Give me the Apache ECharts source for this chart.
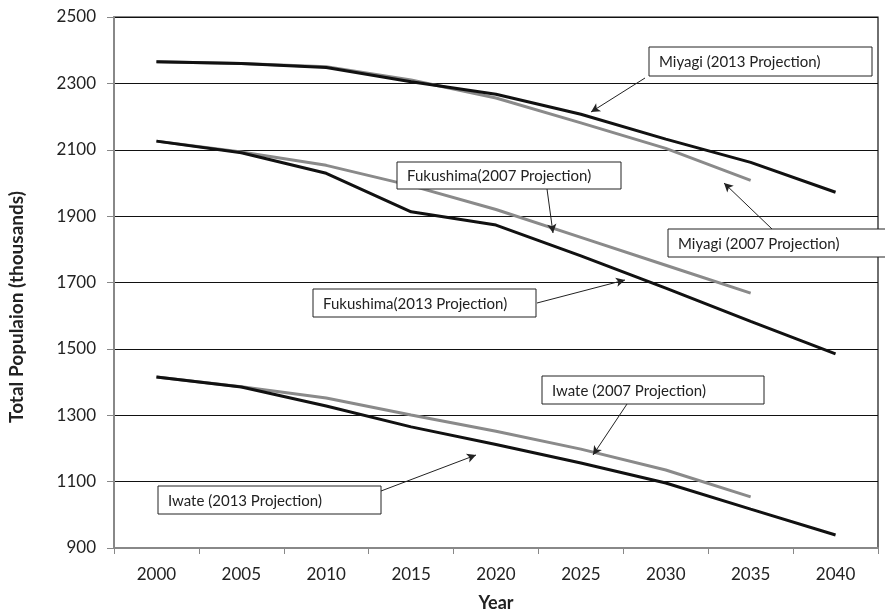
<!DOCTYPE html>
<html>
<head>
<meta charset="utf-8">
<script src="https://cdn.jsdelivr.net/npm/echarts@6/dist/echarts.min.js"></script>
<style>
  html, body { margin: 0; padding: 0; background: #fff; }
  #chart { width: 885px; height: 610px; }
</style>
</head>
<body>
<div id="chart"></div>
<script>
// years on the x axis
const years = ['2000', '2005', '2010', '2015', '2020', '2025', '2030', '2035', '2040'];

// total population, thousands
const miyagi2013 = [2365, 2360, 2348, 2305, 2267, 2207, 2132, 2062, 1972];
const miyagi2007 = [2365, 2360, 2350, 2310, 2256, 2181, 2104, 2008, null];
const fukushima2013 = [2126, 2091, 2029, 1913, 1873, 1780, 1683, 1583, 1485];
const fukushima2007 = [2126, 2093, 2053, 1992, 1920, 1836, 1752, 1668, null];
const iwate2013 = [1415, 1385, 1328, 1265, 1212, 1156, 1096, 1017, 939];
const iwate2007 = [1415, 1386, 1352, 1301, 1252, 1198, 1135, 1054, null];

const FONT = 'Lato';
const BLACK = '#111';
const GREY = '#8a8a8a';

// callout boxes: text, box rect, arrow from -> to (pixels)
const notes = [
  { text: 'Miyagi (2013 Projection)', box: [649, 47, 223, 29], from: [645, 78], to: [591, 112] },
  { text: 'Miyagi (2007 Projection)', box: [668, 229, 230, 28], from: [772, 229], to: [724, 183] },
  { text: 'Fukushima(2007 Projection)', box: [397, 162, 224, 27], from: [547, 189], to: [553, 233] },
  { text: 'Fukushima(2013 Projection)', box: [313, 289, 223, 28], from: [537, 303], to: [625, 280] },
  { text: 'Iwate (2007 Projection)', box: [542, 376, 222, 28], from: [627, 404], to: [593, 455] },
  { text: 'Iwate (2013 Projection)', box: [158, 486, 223, 28], from: [381, 491], to: [476, 455] }
];

function lineSeries(name, data, color, z) {
  return {
    name: name,
    type: 'line',
    data: data,
    symbol: 'none',
    smooth: false,
    z: z,
    lineStyle: { color: color, width: 3 }
  };
}

const chart = echarts.init(document.getElementById('chart'));

const graphics = [];
notes.forEach(n => {
  graphics.push({
    type: 'rect',
    shape: { x: n.box[0], y: n.box[1], width: n.box[2], height: n.box[3] },
    style: { fill: '#fff', stroke: '#222', lineWidth: 1 },
    z: 100
  });
  graphics.push({
    type: 'text',
    x: n.box[0] + 10,
    y: n.box[1] + n.box[3] / 2 + 1,
    style: { text: n.text, fill: '#222', font: '15px ' + FONT, verticalAlign: 'middle' },
    z: 101
  });
});
// y axis title, sits a bit below the plot centre like the original
graphics.push({
  type: 'text',
  x: 17,
  y: 307,
  rotation: Math.PI / 2,
  style: {
    text: 'Total Populaion (thousands)', fill: '#222',
    font: 'bold 19px ' + FONT, align: 'center', verticalAlign: 'middle'
  }
});

chart.setOption({
  animation: false,
  backgroundColor: '#fff',
  grid: {
    left: 114, right: 7, top: 17, bottom: 62,
    outerBoundsMode: 'none',
    containLabel: false,
    show: true, borderColor: '#111', borderWidth: 1.2
  },
  xAxis: {
    type: 'category',
    data: years,
    boundaryGap: true,
    name: 'Year',
    nameLocation: 'middle',
    nameGap: 46,
    nameTextStyle: { fontFamily: FONT, fontWeight: 'bold', fontSize: 18, color: '#222' },
    axisLine: { lineStyle: { color: '#888', width: 2 } },
    axisTick: { show: true, length: 6, lineStyle: { color: '#888' } },
    axisLabel: { fontFamily: FONT, fontSize: 17, color: '#222', margin: 18 }
  },
  yAxis: {
    type: 'value',
    min: 900,
    max: 2500,
    interval: 200,
    axisLine: { show: true, lineStyle: { color: '#888', width: 2 } },
    axisTick: { show: true, length: 7, lineStyle: { color: '#888' } },
    axisLabel: { fontFamily: FONT, fontSize: 17, color: '#222', margin: 18, formatter: v => String(v) },
    splitLine: { lineStyle: { color: '#111', width: 1 } }
  },
  series: [
    lineSeries('Miyagi (2007 Projection)', miyagi2007, GREY, 2),
    lineSeries('Fukushima (2007 Projection)', fukushima2007, GREY, 2),
    lineSeries('Iwate (2007 Projection)', iwate2007, GREY, 2),
    lineSeries('Miyagi (2013 Projection)', miyagi2013, BLACK, 3),
    lineSeries('Fukushima (2013 Projection)', fukushima2013, BLACK, 3),
    Object.assign(lineSeries('Iwate (2013 Projection)', iwate2013, BLACK, 3), {
      // callout arrows
      markLine: {
        silent: true,
        z: 99,
        symbol: ['none', 'arrow'],
        symbolSize: [7, 9],
        label: { show: false },
        lineStyle: { color: '#222', width: 1, type: 'solid' },
        data: notes.map(n => [
          { x: n.from[0], y: n.from[1] },
          { x: n.to[0], y: n.to[1] }
        ])
      }
    })
  ],
  graphic: graphics
});
</script>
</body>
</html>
